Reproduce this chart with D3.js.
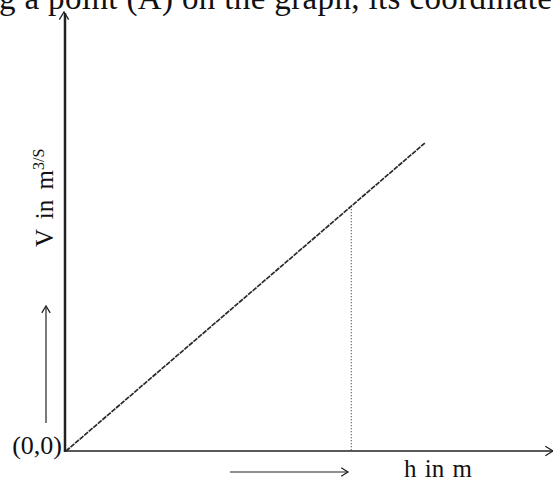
<!DOCTYPE html>
<html><head><meta charset="utf-8">
<script src="https://cdn.jsdelivr.net/npm/d3@7"></script>
<style>html,body{margin:0;padding:0;background:#fff;}svg{display:block;}
.serif{font-family:"Liberation Serif","Times New Roman",Times,"DejaVu Serif",serif;}
</style>
</head><body>
<svg id="chart" width="553" height="477"></svg>
<script>
// Data
const hValues = [0, 10];          // h in m (line endpoints)
const vValues = [0, 8.6];         // V in m^3/s
const pointA = {h: 7.95, v: 6.84};
const topText = "g a point (A) on the graph, its coordinate";
const xLabel = "h in m";
const yLabelMain = "V in m";
const yLabelSup = "3/S";
const originLabel = "(0,0)";

const svg = d3.select("#chart");
const ink = "#222";

const x = d3.scaleLinear().domain([0, 13.6]).range([66, 554]);
const y = d3.scaleLinear().domain([0, 12.26]).range([451, 12]);

function chevron(g, tx, ty, angle, size) {
  const a = angle * Math.PI / 180;
  const s = size, w = 0.55;
  const p1 = [tx - s*Math.cos(a - w), ty - s*Math.sin(a - w)];
  const p2 = [tx - s*Math.cos(a + w), ty - s*Math.sin(a + w)];
  g.append("path").attr("d", `M${p1[0]},${p1[1]} L${tx},${ty} L${p2[0]},${p2[1]}`)
    .attr("fill", "none").attr("stroke", ink).attr("stroke-width", 1.3);
}

// top text (cut off at the top edge)
svg.append("text").attr("class", "serif").attr("x", -1).attr("y", 9)
  .attr("font-size", 33).attr("fill", "#111")
  .attr("textLength", 553).attr("lengthAdjust", "spacing")
  .text(topText);

// Y axis
svg.append("line").attr("x1", x(0)-1).attr("x2", x(0)-1).attr("y1", y(0)+1).attr("y2", y(12.26)+1)
  .attr("stroke", ink).attr("stroke-width", 2.5);
chevron(svg, x(0)-2, y(12.26), -90, 9);

// X axis
svg.append("line").attr("x1", x(0)-2).attr("x2", x(13.6)).attr("y1", y(0)).attr("y2", y(0))
  .attr("stroke", ink).attr("stroke-width", 1.5);
chevron(svg, x(13.6)-1, y(0), 0, 9);

// main line
const line = d3.line().x((d,i)=>x(hValues[i])).y((d,i)=>y(vValues[i]));
svg.append("path").datum(hValues).attr("d", line)
  .attr("fill", "none").attr("stroke", "#2a2a2a").attr("stroke-width", 1.7)
  .attr("stroke-dasharray", "5,1");

// dotted vertical to point A
svg.append("line").attr("x1", x(pointA.h)).attr("x2", x(pointA.h))
  .attr("y1", y(pointA.v)).attr("y2", y(0))
  .attr("stroke", "#444").attr("stroke-width", 1).attr("stroke-dasharray", "1.2,1.8");

// small direction arrows
svg.append("line").attr("x1", 46).attr("x2", 46).attr("y1", 423).attr("y2", 307)
  .attr("stroke", ink).attr("stroke-width", 1.2);
chevron(svg, 46, 306, -90, 8);
svg.append("line").attr("x1", 230).attr("x2", 347).attr("y1", 472).attr("y2", 472)
  .attr("stroke", ink).attr("stroke-width", 1.2);
chevron(svg, 348, 472, 0, 8);

// labels
svg.append("text").attr("class", "serif").attr("x", 62).attr("y", 454).attr("text-anchor", "end")
  .attr("font-size", 26).attr("fill", "#111").text(originLabel);

svg.append("text").attr("class", "serif").attr("x", 404).attr("y", 477)
  .attr("font-size", 25).attr("fill", "#111")
  .attr("word-spacing", 2).text(xLabel);

const yl = svg.append("text").attr("class", "serif").attr("transform", "translate(53,247) rotate(-90)")
  .attr("font-size", 25).attr("fill", "#111")
  .attr("word-spacing", 4);
yl.append("tspan").text(yLabelMain);
yl.append("tspan").attr("font-size", 16).attr("dy", -9).text(yLabelSup);
</script>
</body></html>
